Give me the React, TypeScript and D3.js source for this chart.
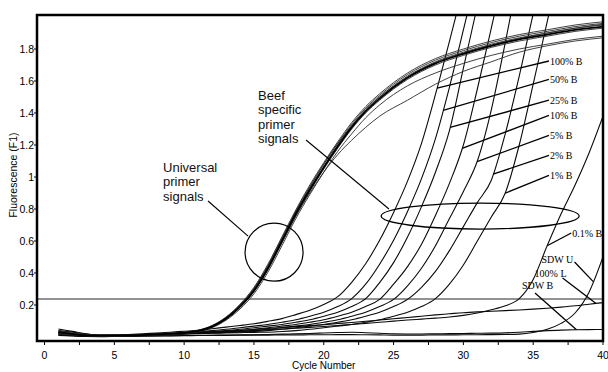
import React, { useEffect, useRef } from 'react';
import * as d3 from 'd3';

// axis ticks
const cycleTicks = [0, 5, 10, 15, 20, 25, 30, 35, 40];
const cycleMinorTicks = [2.5, 7.5, 12.5, 17.5, 22.5, 27.5, 32.5, 37.5];
const fluorTicks = [0.2, 0.4, 0.6, 0.8, 1, 1.2, 1.4, 1.6, 1.8];
const threshold = 0.2375;

// universal primer runs, sampled at these cycles
const universalCycles = [1, 3, 5, 7, 9, 10, 11, 12, 13, 14, 15, 16, 17, 18, 19, 20, 21, 22, 23, 24, 26, 28, 30, 32, 34, 36, 38, 40];
const universalA = [0.03, 0.01, 0.008, 0.012, 0.02, 0.025, 0.038, 0.065, 0.115, 0.19, 0.29, 0.43, 0.6, 0.77, 0.92, 1.06, 1.19, 1.31, 1.41, 1.49, 1.62, 1.71, 1.77, 1.82, 1.86, 1.89, 1.92, 1.94];
const universalB = [0.02, 0.008, 0.006, 0.01, 0.018, 0.026, 0.042, 0.072, 0.125, 0.205, 0.31, 0.455, 0.625, 0.795, 0.95, 1.09, 1.22, 1.34, 1.44, 1.52, 1.65, 1.74, 1.8, 1.85, 1.89, 1.92, 1.95, 1.97];
const universalC = [0.035, 0.015, 0.01, 0.012, 0.018, 0.022, 0.033, 0.058, 0.105, 0.175, 0.27, 0.405, 0.57, 0.74, 0.89, 1.03, 1.16, 1.27, 1.37, 1.45, 1.57, 1.65, 1.71, 1.76, 1.8, 1.83, 1.86, 1.88];
const universalD = [0.025, 0.01, 0.007, 0.011, 0.019, 0.025, 0.04, 0.068, 0.12, 0.198, 0.3, 0.44, 0.61, 0.78, 0.935, 1.08, 1.21, 1.33, 1.43, 1.51, 1.64, 1.73, 1.79, 1.84, 1.88, 1.91, 1.94, 1.96];
const universalE = [0.03, 0.012, 0.009, 0.012, 0.02, 0.024, 0.036, 0.062, 0.11, 0.185, 0.285, 0.425, 0.59, 0.755, 0.9, 1.03, 1.14, 1.23, 1.31, 1.38, 1.48, 1.58, 1.66, 1.72, 1.78, 1.82, 1.85, 1.87];
const universalF = [0.04, 0.014, 0.008, 0.01, 0.017, 0.023, 0.036, 0.063, 0.112, 0.188, 0.29, 0.435, 0.605, 0.775, 0.925, 1.065, 1.2, 1.32, 1.42, 1.5, 1.63, 1.72, 1.78, 1.83, 1.87, 1.9, 1.93, 1.95];
const universalG = [0.025, 0.009, 0.006, 0.01, 0.018, 0.024, 0.037, 0.064, 0.113, 0.186, 0.284, 0.42, 0.588, 0.757, 0.91, 1.05, 1.18, 1.3, 1.4, 1.48, 1.61, 1.7, 1.76, 1.81, 1.85, 1.88, 1.91, 1.93];
const universalH = [0.03, 0.011, 0.007, 0.011, 0.019, 0.026, 0.041, 0.07, 0.122, 0.2, 0.305, 0.448, 0.618, 0.788, 0.94, 1.08, 1.21, 1.32, 1.42, 1.5, 1.625, 1.715, 1.775, 1.825, 1.865, 1.9, 1.93, 1.955];

// beef specific primer runs, one value per cycle starting at cycle 1
const beef100 = [0.05, 0.035, 0.02, 0.012, 0.013, 0.016, 0.02, 0.025, 0.03, 0.036, 0.042, 0.052, 0.062, 0.072, 0.083, 0.098, 0.115, 0.14, 0.167, 0.203, 0.252, 0.342, 0.458, 0.604, 0.778, 0.974, 1.21, 1.516, 1.848, 2.188];
const beef50 = [0.02, 0.012, 0.006, 0.004, 0.006, 0.01, 0.015, 0.02, 0.024, 0.03, 0.034, 0.04, 0.048, 0.058, 0.068, 0.078, 0.092, 0.108, 0.13, 0.155, 0.19, 0.24, 0.33, 0.455, 0.605, 0.785, 0.99, 1.24, 1.56, 1.92, 2.28];
const beef25 = [0.03, 0.02, 0.012, 0.008, 0.008, 0.01, 0.013, 0.017, 0.021, 0.025, 0.03, 0.034, 0.04, 0.048, 0.058, 0.068, 0.078, 0.092, 0.108, 0.13, 0.155, 0.19, 0.24, 0.34, 0.465, 0.625, 0.815, 1.03, 1.29, 1.68, 2.07, 2.46];
const beef10 = [0.015, 0.01, 0.006, 0.004, 0.005, 0.008, 0.011, 0.014, 0.017, 0.02, 0.024, 0.03, 0.034, 0.04, 0.048, 0.058, 0.068, 0.078, 0.092, 0.108, 0.13, 0.155, 0.19, 0.235, 0.33, 0.44, 0.58, 0.76, 0.96, 1.2, 1.55, 1.93, 2.32];
const beef5 = [0.025, 0.016, 0.01, 0.007, 0.007, 0.009, 0.012, 0.015, 0.018, 0.021, 0.024, 0.027, 0.03, 0.034, 0.04, 0.048, 0.058, 0.068, 0.078, 0.092, 0.108, 0.13, 0.155, 0.19, 0.235, 0.32, 0.43, 0.57, 0.74, 0.91, 1.1, 1.42, 1.84, 2.28];
const beef2 = [0.01, 0.006, 0.003, 0.002, 0.004, 0.007, 0.01, 0.013, 0.016, 0.019, 0.022, 0.025, 0.028, 0.03, 0.034, 0.04, 0.048, 0.058, 0.068, 0.078, 0.092, 0.108, 0.13, 0.155, 0.19, 0.235, 0.31, 0.41, 0.54, 0.69, 0.84, 0.98, 1.27, 1.63, 2.02, 2.4];
const beef1 = [0.02, 0.012, 0.007, 0.005, 0.006, 0.008, 0.011, 0.014, 0.017, 0.019, 0.021, 0.023, 0.025, 0.027, 0.029, 0.03, 0.034, 0.04, 0.048, 0.058, 0.068, 0.078, 0.092, 0.108, 0.13, 0.155, 0.19, 0.24, 0.33, 0.45, 0.6, 0.75, 0.9, 1.2, 1.58, 1.97, 2.35];
const beef01 = [0.04, 0.03, 0.018, 0.012, 0.012, 0.014, 0.016, 0.018, 0.02, 0.022, 0.025, 0.028, 0.032, 0.036, 0.04, 0.045, 0.05, 0.055, 0.06, 0.066, 0.072, 0.078, 0.085, 0.092, 0.099, 0.106, 0.112, 0.118, 0.125, 0.135, 0.15, 0.17, 0.195, 0.24, 0.36, 0.57, 0.77, 0.95, 1.15, 1.38];
const lamb100 = [0.03, 0.02, 0.012, 0.008, 0.008, 0.01, 0.013, 0.016, 0.02, 0.024, 0.028, 0.032, 0.037, 0.042, 0.047, 0.053, 0.059, 0.065, 0.071, 0.077, 0.084, 0.091, 0.098, 0.106, 0.114, 0.122, 0.13, 0.138, 0.145, 0.152, 0.157, 0.161, 0.165, 0.169, 0.174, 0.18, 0.187, 0.195, 0.205, 0.215];
const sdwU = [0.02, 0.014, 0.008, 0.004, 0.003, 0.004, 0.005, 0.006, 0.007, 0.008, 0.009, 0.01, 0.01, 0.011, 0.012, 0.012, 0.013, 0.013, 0.014, 0.014, 0.015, 0.015, 0.014, 0.013, 0.012, 0.012, 0.012, 0.013, 0.013, 0.014, 0.014, 0.015, 0.016, 0.018, 0.028, 0.048, 0.085, 0.15, 0.28, 0.5];
const sdwB = [0.012, 0.008, 0.005, 0.004, 0.004, 0.005, 0.006, 0.007, 0.008, 0.009, 0.01, 0.011, 0.012, 0.013, 0.014, 0.016, 0.018, 0.02, 0.022, 0.025, 0.028, 0.03, 0.027, 0.023, 0.02, 0.019, 0.019, 0.02, 0.021, 0.022, 0.023, 0.024, 0.026, 0.03, 0.035, 0.04, 0.043, 0.045, 0.046, 0.047];

const universalRuns = [universalB, universalC, universalD, universalE, universalF, universalG, universalH, universalA];
const cycleRuns = [sdwB, sdwU, lamb100, beef01, beef1, beef2, beef5, beef10, beef25, beef50, beef100];

// labels with leader lines (positions in cycle / fluorescence units, leader end on the run)
const runLabels = [
  { label: '100% B', values: beef100, tx: 36.2, ty: 1.7, at: 28.12, dx: -1, dy: -4 },
  { label: '50% B', values: beef50, tx: 36.2, ty: 1.585, at: 28.55, dx: -1, dy: -4 },
  { label: '25% B', values: beef25, tx: 36.2, ty: 1.455, at: 29.05, dx: -1, dy: -4 },
  { label: '10% B', values: beef10, tx: 36.2, ty: 1.36, at: 29.91, dx: -1, dy: -4 },
  { label: '5% B', values: beef5, tx: 36.2, ty: 1.235, at: 30.98, dx: -1, dy: -4 },
  { label: '2% B', values: beef2, tx: 36.2, ty: 1.11, at: 32.13, dx: -1, dy: -4 },
  { label: '1% B', values: beef1, tx: 36.2, ty: 0.985, at: 32.99, dx: -1, dy: -4 },
  { label: '0.1% B', values: beef01, tx: 37.8, ty: 0.625, at: 36.0, dx: -1, dy: -4 },
  { label: 'SDW U', values: sdwU, tx: 35.6, ty: 0.4625, at: 39.3, dx: 33, dy: -1 },
  { label: '100% L', values: lamb100, tx: 35.1, ty: 0.375, at: 39.5, dx: 28, dy: 1 },
  { label: 'SDW B', values: sdwB, tx: 34.2, ty: 0.3, at: 38.1, dx: 13, dy: 4 },
];

const width = 608;
const height = 372;

const valueAt = (values, cycle) => {
  const i = cycle - 1;
  const lo = Math.floor(i);
  const t = i - lo;
  return values[lo] * (1 - t) + values[Math.min(lo + 1, values.length - 1)] * t;
};

export default function App() {
  const svgRef = useRef(null);

  useEffect(() => {
    document.body.style.margin = '0';
    const svg = d3.select(svgRef.current);
    svg.selectAll('*').remove();

    const x = d3.scaleLinear().domain([-0.54, 40]).range([37, 603]);
    const y = d3.scaleLinear().domain([-0.025, 2.0125]).range([341, 15]);
    const [x0, x1] = x.range();
    const [y1, y0] = y.range();

    svg.append('rect').attr('width', width).attr('height', height).attr('fill', '#fff');

    svg.append('defs').append('clipPath').attr('id', 'plot-clip')
      .append('rect').attr('x', x0).attr('y', y0).attr('width', x1 - x0).attr('height', y1 - y0);

    const plot = svg.append('g').attr('clip-path', 'url(#plot-clip)');

    const line = d3.line().x(d => x(d[0])).y(d => y(d[1])).curve(d3.curveMonotoneX);

    // threshold
    plot.append('line')
      .attr('x1', x0).attr('x2', x1)
      .attr('y1', y(threshold)).attr('y2', y(threshold))
      .attr('stroke', '#6e6e6e').attr('stroke-width', 1.6);

    // per-cycle runs
    plot.selectAll('path.run')
      .data(cycleRuns)
      .join('path')
      .attr('class', 'run')
      .attr('d', vals => line(vals.map((v, i) => [i + 1, v])))
      .attr('fill', 'none')
      .attr('stroke', '#0a0a0a')
      .attr('stroke-width', 1.1);

    // universal runs
    plot.selectAll('path.uni')
      .data(universalRuns)
      .join('path')
      .attr('class', 'uni')
      .attr('d', vals => line(vals.map((v, i) => [universalCycles[i], v])))
      .attr('fill', 'none')
      .attr('stroke', (d, i) => (i === universalRuns.length - 1 ? '#000' : '#2a2a2a'))
      .attr('stroke-width', (d, i) => (i === universalRuns.length - 1 ? 1.8 : 0.9));

    // annotations: circle, ellipse and pointers
    plot.append('circle')
      .attr('cx', x(16.44)).attr('cy', y(0.53)).attr('r', 29)
      .attr('fill', 'none').attr('stroke', '#000').attr('stroke-width', 1.2);
    plot.append('ellipse')
      .attr('cx', x(31.2)).attr('cy', y(0.756)).attr('rx', 99).attr('ry', 13)
      .attr('fill', 'none').attr('stroke', '#000').attr('stroke-width', 1.3);
    const pointers = [
      [[11.71, 0.85], [14.58, 0.631]],
      [[18.73, 1.231], [24.67, 0.8]],
    ];
    plot.selectAll('line.pointer')
      .data(pointers)
      .join('line')
      .attr('class', 'pointer')
      .attr('x1', d => x(d[0][0])).attr('y1', d => y(d[0][1]))
      .attr('x2', d => x(d[1][0])).attr('y2', d => y(d[1][1]))
      .attr('stroke', '#000').attr('stroke-width', 1.1);

    // run labels with leaders
    const labels = plot.selectAll('g.lab').data(runLabels).join('g').attr('class', 'lab');
    labels.append('line')
      .attr('x1', d => x(d.tx) + d.dx).attr('y1', d => y(d.ty) + d.dy)
      .attr('x2', d => x(d.at)).attr('y2', d => y(valueAt(d.values, d.at)))
      .attr('stroke', '#000').attr('stroke-width', 1.3);
    labels.append('text')
      .attr('x', d => x(d.tx)).attr('y', d => y(d.ty))
      .attr('font-family', '"Liberation Serif", "Times New Roman", serif')
      .attr('font-size', 10)
      .attr('fill', '#000')
      .text(d => d.label);

    // big annotation texts
    const notes = [
      { lines: ['Beef', 'specific', 'primer', 'signals'], cx: 15.29, cy: 1.484 },
      { lines: ['Universal', 'primer', 'signals'], cx: 8.49, cy: 1.034 },
    ];
    notes.forEach(n => {
      const t = plot.append('text')
        .attr('x', x(n.cx)).attr('y', y(n.cy))
        .attr('font-family', '"Liberation Sans", Arial, sans-serif')
        .attr('font-size', 13)
        .attr('fill', '#111');
      n.lines.forEach((s, i) => {
        t.append('tspan').attr('x', x(n.cx)).attr('dy', i === 0 ? 0 : 14.6).text(s);
      });
    });

    // axes
    const axisFont = '"Liberation Sans", Arial, sans-serif';
    svg.selectAll('line.xtick')
      .data(cycleTicks.concat(cycleMinorTicks))
      .join('line')
      .attr('class', 'xtick')
      .attr('x1', d => x(d)).attr('x2', d => x(d))
      .attr('y1', y1).attr('y2', y1 + 4)
      .attr('stroke', '#000').attr('stroke-width', 1);
    svg.selectAll('text.xlab')
      .data(cycleTicks)
      .join('text')
      .attr('class', 'xlab')
      .attr('x', d => x(d)).attr('y', 359)
      .attr('text-anchor', 'middle')
      .attr('font-family', axisFont).attr('font-size', 10.5)
      .text(d => d);
    svg.selectAll('line.ytick')
      .data(fluorTicks)
      .join('line')
      .attr('class', 'ytick')
      .attr('x1', x0 - 3).attr('x2', x0)
      .attr('y1', d => y(d)).attr('y2', d => y(d))
      .attr('stroke', '#000');
    svg.selectAll('text.ylab')
      .data(fluorTicks)
      .join('text')
      .attr('class', 'ylab')
      .attr('x', x0 - 3).attr('y', d => y(d))
      .attr('dy', '0.35em')
      .attr('text-anchor', 'end')
      .attr('font-family', axisFont).attr('font-size', 10.5)
      .text(d => d);

    svg.append('text')
      .attr('x', (x(0) + x(40)) / 2).attr('y', 369)
      .attr('text-anchor', 'middle')
      .attr('font-family', axisFont).attr('font-size', 10)
      .text('Cycle Number');
    svg.append('text')
      .attr('transform', `translate(17, ${(y0 + y1) / 2 - 3}) rotate(-90)`)
      .attr('text-anchor', 'middle')
      .attr('font-family', axisFont).attr('font-size', 10.5)
      .text('Fluorescence (F1)');

    // frame
    svg.append('rect')
      .attr('x', x0).attr('y', y0)
      .attr('width', x1 - x0).attr('height', y1 - y0)
      .attr('fill', 'none').attr('stroke', '#000').attr('stroke-width', 2.5);
  }, []);

  return <svg ref={svgRef} width={width} height={height} style={{ display: 'block' }} />;
}
